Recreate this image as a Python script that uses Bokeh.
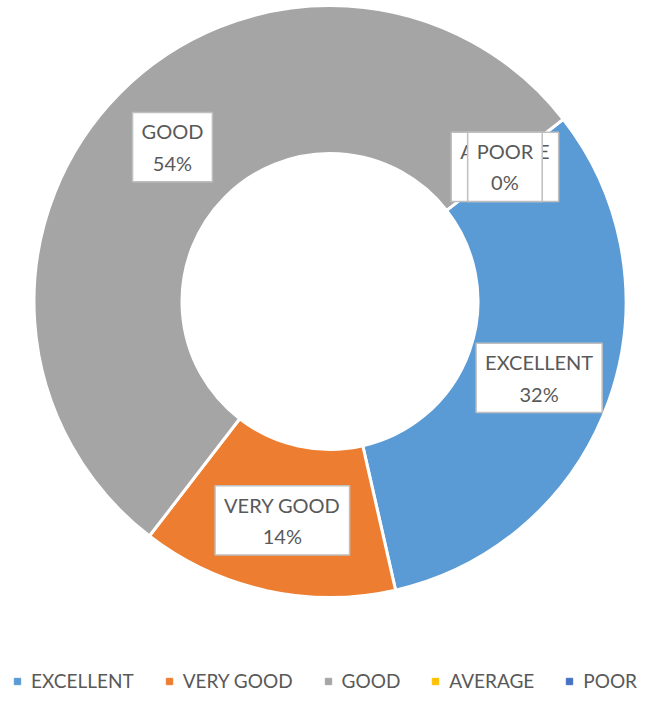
import math
from bokeh.plotting import figure
from bokeh.models import Range1d, Legend, LegendItem, ColumnDataSource, CDSView, BooleanFilter
from bokeh.embed import file_html
from bokeh.resources import INLINE
from bokeh.core.properties import value

# ---- data ----
categories = ["EXCELLENT", "VERY GOOD", "GOOD", "AVERAGE", "POOR"]
percents = [32, 14, 54, 0, 0]
colors = ["#5B9BD5", "#ED7D31", "#A5A5A5", "#FFC000", "#4472C4"]
first_slice_angle = 52  # degrees, clockwise from 12 o'clock

# ---- geometry / style ----
W, H = 640, 694
CX, CY = 329.5, -301.0
R_OUT, R_IN = 296, 148
FONT = "Lato"
TXT = "#595959"

p = figure(width=W, height=H, output_backend="svg", toolbar_location=None,
           x_range=Range1d(0, W), y_range=Range1d(-H, 0),
           x_axis_location=None, y_axis_location=None, min_border=0)
p.grid.visible = False
p.outline_line_color = None
p.background_fill_color = "white"

total = sum(percents)
starts, ends, lx, ly, labels = [], [], [], [], []
cum = 0.0
for cat, v in zip(categories, percents):
    s = first_slice_angle + 360.0 * cum / total
    e = s + 360.0 * v / total
    cum += v
    starts.append(math.radians(90 - s))
    ends.append(math.radians(90 - e))
    mid = math.radians((s + e) / 2)
    rm = (R_OUT + R_IN) / 2
    lx.append(CX + rm * math.sin(mid))
    ly.append(CY + rm * math.cos(mid) - 2)
    labels.append(f"{cat}\n{round(100.0 * v / total)}%")

src = ColumnDataSource(dict(start=starts, end=ends, color=colors,
                            lx=lx, ly=ly, label=labels, cat=categories))
nonzero = CDSView(filter=BooleanFilter([v > 0 for v in percents]))

p.annular_wedge(x=CX, y=CY, inner_radius=R_IN, outer_radius=R_OUT,
                start_angle="start", end_angle="end", direction="clock",
                fill_color="color", line_color="white", line_width=3,
                source=src, view=nonzero)

p.text(x="lx", y="ly", text="label", source=src,
       text_align="center", text_baseline="middle",
       text_font=value(FONT), text_font_size="20px", text_color=TXT,
       text_line_height=1.3,
       background_fill_color="white", border_line_color="#BFBFBF",
       border_line_width=1.5,
       padding=dict(left=9, right=9, top=7, bottom=7))

# legend with square keys
items = []
for cat, c in zip(categories, colors):
    r = p.scatter(x=[float("nan")], y=[float("nan")], marker="square",
                  fill_color=c, line_color=c, size=7)
    items.append(LegendItem(label=cat, renderers=[r]))

legend = Legend(items=items, orientation="horizontal", location=(9, 2),
                glyph_width=16, glyph_height=16, label_standoff=6,
                spacing=27, padding=0, margin=0, label_height=16,
                label_text_font=FONT, label_text_font_size="19px",
                label_text_color=TXT, border_line_color=None,
                background_fill_alpha=0)
p.add_layout(legend)

open("out.html", "w").write(file_html(p, INLINE))
